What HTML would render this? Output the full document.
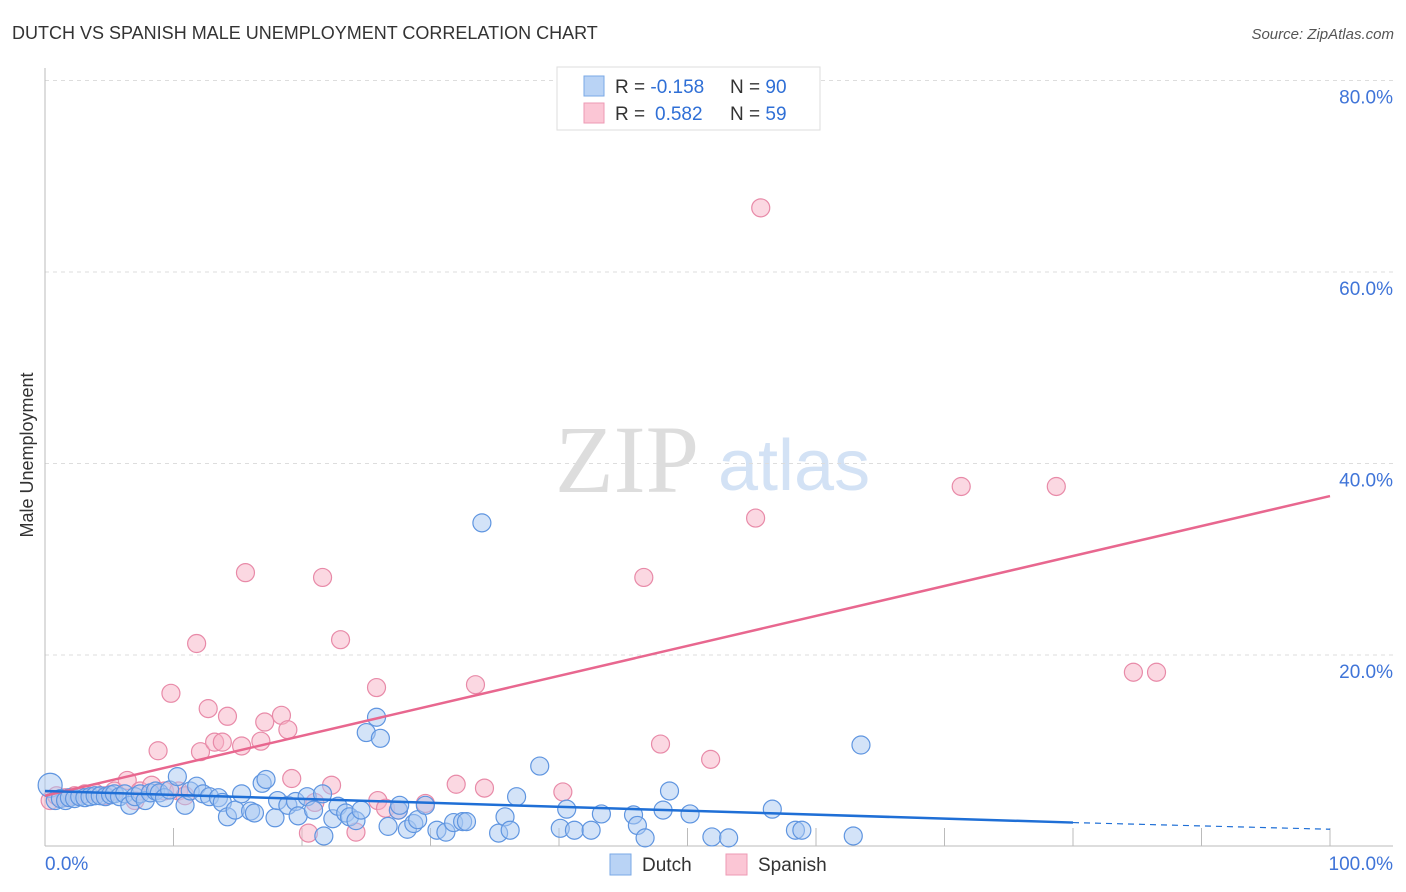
<!DOCTYPE html>
<html><head><meta charset="utf-8"><style>
body{margin:0;background:#fff;font-family:"Liberation Sans",sans-serif;}
svg{display:block}
</style></head><body>
<svg id="chart" width="1406" height="892">
<text x="12" y="39" font-size="18" fill="#333">DUTCH VS SPANISH MALE UNEMPLOYMENT CORRELATION CHART</text>
<text x="1394" y="39" font-size="15" fill="#555" font-style="italic" text-anchor="end">Source: ZipAtlas.com</text>
<text x="555" y="492" font-size="96" font-family="Liberation Serif,serif" fill="#ddd">ZIP</text>
<text x="718" y="490" font-size="72" fill="#d3e2f5">atlas</text>
<text transform="translate(33,455) rotate(-90)" font-size="18" fill="#333" text-anchor="middle">Male Unemployment</text>
<g id="grid"></g><g id="axes"></g><g id="dots"></g><g id="lines"></g>
<g>
<rect x="557" y="67" width="263" height="63" fill="#fff" stroke="#ddd"/>
<rect x="584" y="76" width="20" height="20" fill="#b9d3f5" stroke="#7aa8e6"/>
<rect x="584" y="103" width="20" height="20" fill="#fbc6d5" stroke="#ee9ab4"/>
<text x="615" y="93" font-size="19" fill="#333">R = <tspan fill="#2f6fd6">-0.158</tspan><tspan x="730">N = </tspan><tspan fill="#2f6fd6">90</tspan></text>
<text x="615" y="120" font-size="19" fill="#333">R = <tspan fill="#2f6fd6" x="655">0.582</tspan><tspan x="730">N = </tspan><tspan fill="#2f6fd6">59</tspan></text>
</g>
<g>
<rect x="610" y="854" width="21" height="21" fill="#b9d3f5" stroke="#7aa8e6"/>
<text x="642" y="871" font-size="19" fill="#333">Dutch</text>
<rect x="726" y="854" width="21" height="21" fill="#fbc6d5" stroke="#ee9ab4"/>
<text x="758" y="871" font-size="19" fill="#333">Spanish</text>
</g>
</svg>
<script>
const dutchX=[0.4,0.8,1.2,1.6,1.9,2.3,2.7,3.1,3.5,3.9,4.3,4.7,5.1,5.4,5.8,6.2,6.6,7.0,7.4,7.8,8.2,8.6,8.9,9.3,9.7,10.3,10.9,11.3,11.8,12.3,12.8,13.5,13.8,14.2,14.8,15.3,16.0,16.3,16.9,17.2,17.9,18.1,18.9,19.5,19.7,20.4,20.9,21.6,21.7,22.4,22.8,23.4,23.7,24.2,24.6,25.0,25.8,26.1,26.7,27.5,27.6,28.2,28.7,29.0,29.6,30.5,31.2,31.8,32.5,32.8,34.0,35.3,35.8,36.2,36.7,38.5,40.1,40.6,41.2,42.5,43.3,45.8,46.1,46.7,48.1,48.6,50.2,51.9,53.2,56.6,58.4,58.9,62.9,63.5];
const dutchY=[6.4,4.8,5.0,4.8,5.1,5.0,5.2,5.1,5.2,5.3,5.3,5.2,5.4,5.5,5.2,5.5,4.3,5.2,5.5,4.8,5.6,5.8,5.6,5.1,5.9,7.3,4.3,5.8,6.3,5.5,5.2,5.1,4.6,3.1,3.8,5.5,3.7,3.5,6.6,7.0,3.0,4.8,4.3,4.7,3.2,5.2,3.8,5.5,1.1,2.9,4.2,3.5,3.1,2.7,3.8,11.9,13.5,11.3,2.1,3.8,4.3,1.8,2.4,2.8,4.3,1.7,1.5,2.5,2.6,2.6,33.8,1.4,3.1,1.7,5.2,8.4,1.9,3.9,1.7,1.7,3.4,3.3,2.2,0.9,3.8,5.8,3.4,1.0,0.9,3.9,1.7,1.7,1.1,10.6];
const spanishX=[0.4,0.9,1.6,2.3,3.1,3.9,4.7,5.4,6.4,7.0,7.4,8.3,8.8,9.3,9.8,10.4,10.9,11.8,12.1,12.7,13.2,13.8,14.2,15.3,15.6,16.8,17.1,18.4,18.9,19.2,20.5,21.0,21.6,22.3,23.0,24.2,25.8,25.9,26.5,27.5,29.6,32.0,33.5,34.2,40.3,46.6,47.9,51.8,55.3,55.7,71.3,78.7,84.7,86.5];
const spanishY=[4.8,5.3,5.1,5.3,5.5,5.6,5.3,5.8,6.9,4.8,5.8,6.4,10.0,5.8,16.0,5.8,5.3,21.2,9.9,14.4,10.9,10.9,13.6,10.5,28.6,11.0,13.0,13.7,12.2,7.1,1.4,4.6,28.1,6.4,21.6,1.5,16.6,4.8,4.0,3.8,4.5,6.5,16.9,6.1,5.7,28.1,10.7,9.1,34.3,66.7,37.6,37.6,18.2,18.2];
const yTicks=[20,40,60,80];
const xTickLabels=["0.0%","100.0%"];
const dutchTrend=[5.8,2.5,1.8]; // at x=0, 80, 100
const spanishTrend=[5.3,36.6]; // at x=0,100
const NS="http://www.w3.org/2000/svg";
const X=v=>45+v*12.85, Y=v=>846.5-v*9.575;
function mk(tag,attrs,parent){const e=document.createElementNS(NS,tag);for(const k in attrs)e.setAttribute(k,attrs[k]);document.getElementById(parent).appendChild(e);return e;}
yTicks.forEach(t=>{
 const g=mk('line',{x1:45,x2:1393,y1:Y(t),y2:Y(t),stroke:'#ddd','stroke-dasharray':'4,4'},'grid');
 
 
 const l=mk('text',{x:1393,y:Y(t)+23,'font-size':19,fill:'#3f74d8','text-anchor':'end'},'grid');
 l.textContent=t.toFixed(1)+'%';
 
 
});
const ax=mk('line',{x1:45,x2:45,y1:68,y2:846,stroke:'#bbb'},'axes');


const bx=mk('line',{x1:45,x2:1393,y1:846,y2:846,stroke:'#bbb'},'axes');


for(let i=1;i<=10;i++){const t=mk('line',{x1:X(i*10),x2:X(i*10),y1:828,y2:846,stroke:'#bbb'},'axes');
 
 }
[[0,'start',45],[100,'end',1393]].forEach((d,i)=>{const t=mk('text',{x:d[2],y:870,'font-size':19,fill:'#3f74d8','text-anchor':d[1]},'axes');t.textContent=xTickLabels[i];
 
 });
function dots(xs,ys,fill,stroke,name){xs.forEach((x,i)=>{const c=mk('circle',{cx:X(x),cy:Y(ys[i]),r:i===0&&name==='dutch-point'?12:9,fill:fill,'fill-opacity':0.5,stroke:stroke,'stroke-width':1.2},'dots');
 
 });}
dots(spanishX,spanishY,'#f7b2c6','#e88aa8','spanish-point');
dots(dutchX,dutchY,'#a7c7f2','#5f95e0','dutch-point');
const sl=mk('line',{x1:X(0),y1:Y(spanishTrend[0]),x2:X(100),y2:Y(spanishTrend[1]),stroke:'#e8678f','stroke-width':2.5},'lines');


const dl=mk('line',{x1:X(0),y1:Y(dutchTrend[0]),x2:X(80),y2:Y(dutchTrend[1]),stroke:'#1f6fd6','stroke-width':2.5},'lines');


const dd=mk('line',{x1:X(80),y1:Y(dutchTrend[1]),x2:X(100),y2:Y(dutchTrend[2]),stroke:'#1f6fd6','stroke-width':1.2,'stroke-dasharray':'6,5'},'lines');


</script>
</body></html>
